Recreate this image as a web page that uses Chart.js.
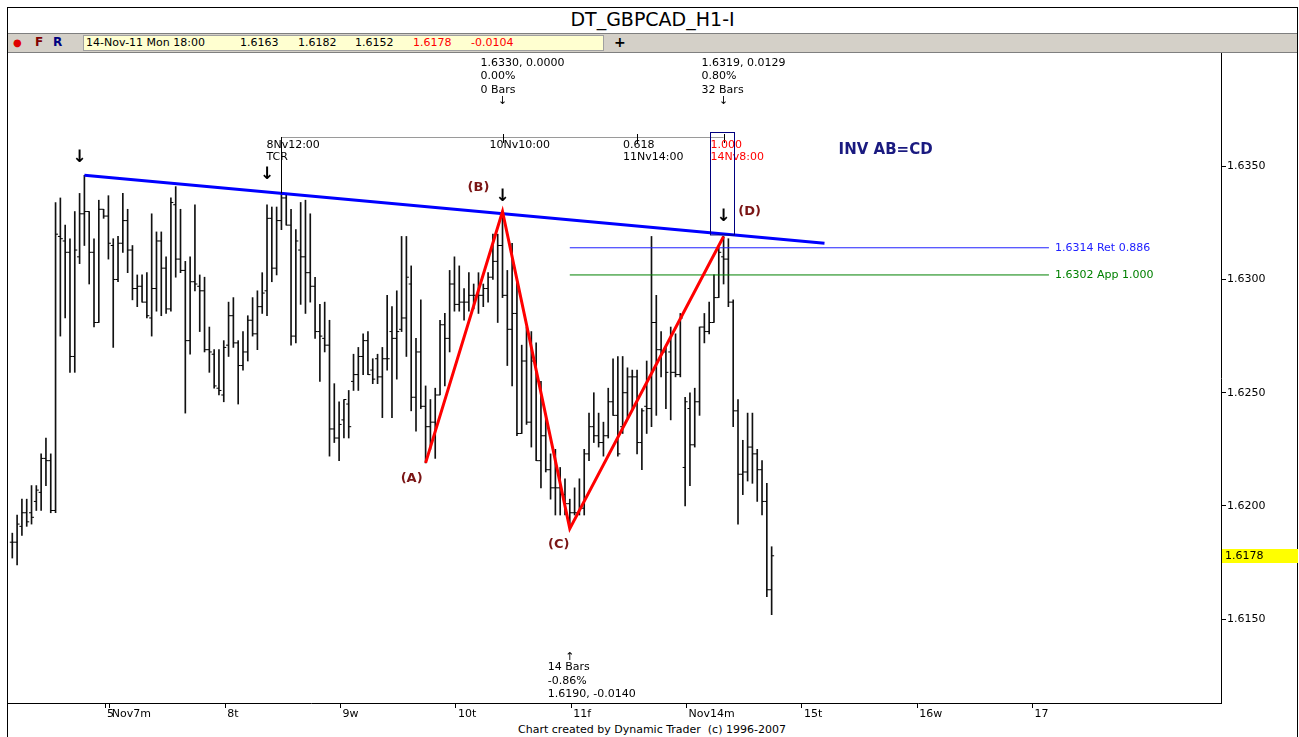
<!DOCTYPE html>
<html>
<head>
<meta charset="utf-8">
<title>DT_GBPCAD_H1-I</title>
<script src="https://cdn.jsdelivr.net/npm/chart.js@4.4.1/dist/chart.umd.min.js"></script>
<style>
  body { margin: 0; background: #fff; font-family: "DejaVu Sans", sans-serif; }
  #wrap { position: relative; width: 1299px; height: 737px; overflow: hidden; background: #fff; }
  #frame { position: absolute; left: 7px; top: 7px; width: 1291px; height: 760px; border: 1px solid #000; box-sizing: border-box; }
  #title { position: absolute; left: 8px; top: 8px; width: 1289px; height: 25px; line-height: 23px; text-align: center; font-size: 19px; border-bottom: 1px solid #7f7f7f; }
  #toolbar { position: absolute; left: 8px; top: 34px; width: 1289px; height: 18px; background: #d4d0c8; border-bottom: 1px solid #7f7f7f; font-size: 11px; }
  #toolbar span { position: absolute; top: 2px; white-space: pre; }
  #quote { position: absolute; left: 75px; top: 1px; width: 519px; height: 14px; background: #ffffd0; border: 1px solid #a0a0a0; }
  #footer { position: absolute; left: 0; top: 723px; width: 1304px; text-align: center; font-size: 11px; white-space: pre; }
  canvas { position: absolute; left: 0; top: 0; }
</style>
</head>
<body>
<div id="wrap">
  <div id="frame"></div>
  <div id="title">DT_GBPCAD_H1-I</div>
  <div id="toolbar">
    <span style="left:5px;color:#e00000;font-size:10px;top:3px">&#9679;</span>
    <span style="left:27px;color:#800000;font-weight:bold;font-size:12px;top:1px">F</span>
    <span style="left:45px;color:#000080;font-weight:bold;font-size:12px;top:1px">R</span>
    <div id="quote"></div>
    <span style="left:78px">14-Nov-11 Mon 18:00</span>
    <span style="left:232px">1.6163</span>
    <span style="left:290px">1.6182</span>
    <span style="left:347px">1.6152</span>
    <span style="left:405px;color:#ff0000">1.6178</span>
    <span style="left:463px;color:#ff0000">-0.0104</span>
    <span style="left:606px;font-weight:bold;font-size:14px;top:0px">+</span>
  </div>
  <div id="footer">Chart created by Dynamic Trader  (c) 1996-2007</div>
  <canvas id="chart" width="1299" height="737"></canvas>
</div>
<script>
// hourly bars, 4-Nov ... 14-Nov-11 18:00
var opens = [1.6184,1.6184,1.6191,1.6197,1.6197,1.6202,1.6206,1.6221,1.6220,1.6198,
  1.6319,1.6317,1.6312,1.6266,1.6310,1.6329,1.6330,1.6312,1.6281,1.6331,
  1.6328,1.6315,1.6300,1.6316,1.6326,1.6313,1.6296,1.6297,1.6290,1.6283,
  1.6296,1.6317,1.6305,1.6287,1.6333,1.6309,1.6304,1.6273,1.6299,1.6297,
  1.6295,1.6269,1.6267,1.6252,1.6249,1.6271,1.6284,1.6272,1.6262,1.6268,
  1.6282,1.6276,1.6288,1.6295,1.6327,1.6305,1.6326,1.6336,1.6324,1.6275,
  1.6313,1.6310,1.6303,1.6297,1.6277,1.6274,1.6271,1.6234,1.6230,1.6238,
  1.6245,1.6255,1.6258,1.6266,1.6273,1.6260,1.6265,1.6257,1.6265,1.6277,
  1.6274,1.6278,1.6283,1.6298,1.6248,1.6268,1.6244,1.6235,1.6237,1.6249,
  1.6280,1.6274,1.6298,1.6289,1.6290,1.6290,1.6293,1.6293,1.6293,1.6296,
  1.6301,1.6308,1.6315,1.6293,1.6278,1.6285,1.6232,1.6264,1.6237,1.6264,
  1.6220,1.6231,1.6216,1.6208,1.6208,1.6205,1.6201,1.6197,1.6197,1.6199,
  1.6223,1.6235,1.6231,1.6228,1.6231,1.6246,1.6240,1.6235,1.6250,1.6257,
  1.6257,1.6228,1.6244,1.6243,1.6281,1.6269,1.6268,1.6268,1.6259,1.6258,
  1.6217,1.6243,1.6227,1.6246,1.6279,1.6277,1.6281,1.6292,1.6310,1.6309,
  1.6290,1.6242,1.6214,1.6215,1.6226,1.6223,1.6216,1.6202,1.6163];
var highs = [1.6188,1.6196,1.6203,1.6203,1.6209,1.6209,1.6223,1.6230,1.6223,1.6334,
  1.6336,1.6324,1.6318,1.6330,1.6338,1.6346,1.6330,1.6318,1.6335,1.6331,
  1.6337,1.6318,1.6319,1.6338,1.6331,1.6315,1.6302,1.6302,1.6303,1.6329,
  1.6321,1.6321,1.6310,1.6336,1.6341,1.6331,1.6308,1.6310,1.6333,1.6302,
  1.6301,1.6279,1.6269,1.6269,1.6273,1.6290,1.6292,1.6273,1.6277,1.6284,
  1.6292,1.6295,1.6303,1.6333,1.6332,1.6332,1.6338,1.6338,1.6331,1.6322,
  1.6334,1.6335,1.6329,1.6301,1.6289,1.6290,1.6282,1.6254,1.6246,1.6247,
  1.6251,1.6267,1.6270,1.6276,1.6277,1.6265,1.6267,1.6270,1.6293,1.6288,
  1.6295,1.6319,1.6319,1.6306,1.6274,1.6291,1.6253,1.6247,1.6252,1.6282,
  1.6285,1.6304,1.6310,1.6306,1.6296,1.6303,1.6298,1.6303,1.6298,1.6303,
  1.6320,1.6320,1.6330,1.6304,1.6316,1.6301,1.6271,1.6279,1.6277,1.6272,
  1.6255,1.6240,1.6223,1.6225,1.6217,1.6212,1.6203,1.6208,1.6212,1.6225,
  1.6241,1.6250,1.6241,1.6237,1.6252,1.6265,1.6266,1.6266,1.6261,1.6260,
  1.6260,1.6243,1.6264,1.6319,1.6293,1.6277,1.6271,1.6279,1.6276,1.6285,
  1.6248,1.6250,1.6252,1.6279,1.6285,1.6290,1.6302,1.6314,1.6319,1.6318,
  1.6291,1.6247,1.6229,1.6241,1.6241,1.6225,1.6220,1.6210,1.6182];
var lows = [1.6177,1.6174,1.6187,1.6191,1.6192,1.6198,1.6198,1.6209,1.6197,1.6197,
  1.6275,1.6283,1.6259,1.6259,1.6307,1.6315,1.6298,1.6279,1.6281,1.6327,
  1.6309,1.6270,1.6299,1.6312,1.6303,1.6291,1.6288,1.6290,1.6283,1.6275,
  1.6286,1.6284,1.6285,1.6286,1.6301,1.6303,1.6241,1.6267,1.6295,1.6277,
  1.6268,1.6259,1.6252,1.6249,1.6246,1.6266,1.6270,1.6245,1.6260,1.6264,
  1.6275,1.6269,1.6285,1.6284,1.6299,1.6302,1.6322,1.6324,1.6271,1.6272,
  1.6289,1.6285,1.6290,1.6274,1.6255,1.6268,1.6222,1.6228,1.6220,1.6230,
  1.6230,1.6251,1.6251,1.6258,1.6258,1.6254,1.6254,1.6239,1.6260,1.6239,
  1.6256,1.6277,1.6266,1.6242,1.6233,1.6243,1.6219,1.6225,1.6221,1.6249,
  1.6253,1.6268,1.6286,1.6286,1.6282,1.6286,1.6287,1.6285,1.6288,1.6290,
  1.6300,1.6281,1.6292,1.6262,1.6253,1.6231,1.6232,1.6236,1.6226,1.6220,
  1.6208,1.6215,1.6203,1.6196,1.6196,1.6196,1.6190,1.6196,1.6196,1.6196,
  1.6220,1.6228,1.6226,1.6222,1.6230,1.6240,1.6222,1.6232,1.6239,1.6243,
  1.6223,1.6216,1.6232,1.6235,1.6240,1.6257,1.6243,1.6238,1.6257,1.6257,
  1.6200,1.6209,1.6226,1.6240,1.6272,1.6276,1.6281,1.6292,1.6298,1.6288,
  1.6235,1.6192,1.6205,1.6211,1.6210,1.6202,1.6196,1.6160,1.6152];
var closes = [1.6184,1.6192,1.6197,1.6193,1.6195,1.6207,1.6221,1.6220,1.6198,1.6320,
  1.6318,1.6312,1.6266,1.6313,1.6329,1.6330,1.6312,1.6281,1.6331,1.6328,
  1.6316,1.6300,1.6316,1.6326,1.6313,1.6296,1.6297,1.6290,1.6284,1.6296,
  1.6317,1.6305,1.6287,1.6334,1.6309,1.6304,1.6273,1.6299,1.6298,1.6295,
  1.6269,1.6268,1.6253,1.6251,1.6270,1.6284,1.6272,1.6262,1.6268,1.6282,
  1.6276,1.6288,1.6294,1.6327,1.6305,1.6326,1.6336,1.6324,1.6275,1.6317,
  1.6310,1.6303,1.6297,1.6277,1.6275,1.6271,1.6234,1.6230,1.6236,1.6247,
  1.6235,1.6258,1.6266,1.6273,1.6258,1.6256,1.6257,1.6265,1.6265,1.6274,
  1.6277,1.6283,1.6301,1.6248,1.6268,1.6244,1.6235,1.6237,1.6249,1.6280,
  1.6274,1.6298,1.6289,1.6290,1.6290,1.6293,1.6293,1.6293,1.6296,1.6301,
  1.6308,1.6315,1.6293,1.6278,1.6285,1.6232,1.6264,1.6237,1.6264,1.6220,
  1.6231,1.6216,1.6208,1.6208,1.6205,1.6201,1.6197,1.6197,1.6199,1.6223,
  1.6235,1.6231,1.6228,1.6231,1.6246,1.6240,1.6223,1.6250,1.6257,1.6257,
  1.6228,1.6242,1.6243,1.6281,1.6269,1.6268,1.6259,1.6259,1.6258,1.6283,
  1.6246,1.6227,1.6246,1.6279,1.6277,1.6281,1.6292,1.6312,1.6309,1.6290,
  1.6242,1.6214,1.6215,1.6226,1.6223,1.6216,1.6202,1.6163,1.6178];

// day separators on the time axis (bar index) and their labels
var dayTicks = [19.3, 20.3, 44.3, 68.3, 92.3, 116.3, 140.3, 164.3, 188.3, 212.3];
var dayLabels = ['5', 'Nov7m', '8t', '9w', '10t', '11f', 'Nov14m', '15t', '16w', '17'];
var priceTicks = [1.6150, 1.6200, 1.6250, 1.6300, 1.6350];

// AB=CD swing points
var pivotIdx = [86, 102, 116, 148];
var pivotPrice = [1.6219, 1.6330, 1.6190, 1.6319];
var pivotNames = ['(A)', '(B)', '(C)', '(D)'];

// resistance trend line and projections
var trendIdx = [15, 169];
var trendPrice = [1.6346, 1.6316];
var retLevel = 1.6314, appLevel = 1.6302, levelEndIdx = 215.7;
var arrowIdx = [14, 53, 102, 148];
var bracketIdx = [56, 102, 130, 148];
var lastPrice = 1.6178;

var bars = highs.map(function (h, i) { return { x: i, y: [lows[i], h] }; });
var openTicks = opens.map(function (o, i) { return { x: i - 0.27, y: o }; });
var closeTicks = closes.map(function (c, i) { return { x: i + 0.27, y: c }; });
var abcd = pivotIdx.map(function (x, i) { return { x: x, y: pivotPrice[i] }; });

function trendAt(idx) {
    var k = (trendPrice[1] - trendPrice[0]) / (trendIdx[1] - trendIdx[0]);
    return trendPrice[0] + k * (idx - trendIdx[0]);
}

var FONT = '"DejaVu Sans", sans-serif';

function text(ctx, s, x, y, color, font, align) {
    ctx.fillStyle = color || '#000';
    ctx.font = font || ('11px ' + FONT);
    ctx.textAlign = align || 'left';
    ctx.textBaseline = 'middle';
    ctx.fillText(s, x, y);
}

// annotations drawn on top of the chart
var annotations = {
    id: 'annotations',
    afterDatasetsDraw: function (chart) {
        var ctx = chart.ctx, xs = chart.scales.x, ys = chart.scales.y, area = chart.chartArea;
        var px = function (v) { return xs.getPixelForValue(v); };
        var py = function (v) { return ys.getPixelForValue(v); };
        ctx.save();

        // time bracket
        var by = area.top + 84;
        ctx.strokeStyle = '#9a9a9a';
        ctx.lineWidth = 1;
        ctx.beginPath();
        ctx.moveTo(px(bracketIdx[0]), by + 0.5);
        ctx.lineTo(px(bracketIdx[3]), by + 0.5);
        ctx.stroke();
        ctx.strokeStyle = '#000';
        ctx.beginPath();
        ctx.moveTo(Math.round(px(bracketIdx[0])) + 0.5, by);
        ctx.lineTo(Math.round(px(bracketIdx[0])) + 0.5, py(highs[bracketIdx[0]]));
        [1, 2, 3].forEach(function (k) {
            var x = Math.round(px(bracketIdx[k])) + 0.5;
            ctx.moveTo(x, by - 3);
            ctx.lineTo(x, by + 6);
        });
        ctx.stroke();
        text(ctx, '8Nv12:00', px(bracketIdx[0]) - 15, by + 8);
        text(ctx, 'TCR', px(bracketIdx[0]) - 15, by + 20);
        text(ctx, '10Nv10:00', px(bracketIdx[1]) - 13, by + 8);
        text(ctx, '0.618', px(bracketIdx[2]) - 14, by + 8);
        text(ctx, '11Nv14:00', px(bracketIdx[2]) - 14, by + 20);
        text(ctx, '1.000', px(bracketIdx[3]) - 13, by + 8, '#ff0000');
        text(ctx, '14Nv8:00', px(bracketIdx[3]) - 13, by + 20, '#ff0000');

        // time window box at D
        var dx = px(pivotIdx[3]);
        ctx.strokeStyle = '#000080';
        ctx.strokeRect(Math.round(dx - 14) + 0.5, by - 5 + 0.5, 24, py(pivotPrice[3]) - by + 3);

        // swing statistics
        var bx = px(pivotIdx[1]) - 22;
        text(ctx, '1.6330, 0.0000', bx, area.top + 10);
        text(ctx, '0.00%', bx, area.top + 23);
        text(ctx, '0 Bars', bx, area.top + 37);
        text(ctx, '\u2193', px(pivotIdx[1]), area.top + 48, '#000', '11px ' + FONT, 'center');
        var ddx = px(pivotIdx[3]) - 22;
        text(ctx, '1.6319, 0.0129', ddx, area.top + 10);
        text(ctx, '0.80%', ddx, area.top + 23);
        text(ctx, '32 Bars', ddx, area.top + 37);
        text(ctx, '\u2193', px(pivotIdx[3]), area.top + 48, '#000', '11px ' + FONT, 'center');
        var cx = px(pivotIdx[2]) - 22;
        text(ctx, '\u2191', px(pivotIdx[2]), area.bottom - 46, '#000', '11px ' + FONT, 'center');
        text(ctx, '14 Bars', cx, area.bottom - 36);
        text(ctx, '-0.86%', cx, area.bottom - 22);
        text(ctx, '1.6190, -0.0140', cx, area.bottom - 9);

        // bold arrows over the trend line touches
        arrowIdx.forEach(function (i) {
            text(ctx, '\u2193', px(i), py(trendAt(i)) - 17, '#000', 'bold 17px ' + FONT, 'center');
        });

        // pivot labels
        var off = [[-14, 16], [-24, -24], [-11, 16], [26, -25]];
        pivotNames.forEach(function (n, i) {
            text(ctx, n, px(pivotIdx[i]) + off[i][0], py(pivotPrice[i]) + off[i][1], '#7a1515', 'bold 13px ' + FONT, 'center');
        });

        text(ctx, 'INV AB=CD', px(pivotIdx[3]) + 115, area.top + 97, '#1a1a80', 'bold 15px ' + FONT);

        // level labels
        var lx = px(levelEndIdx) + 6;
        text(ctx, retLevel.toFixed(4) + ' Ret 0.886', lx, py(retLevel), '#2020ff');
        text(ctx, appLevel.toFixed(4) + ' App 1.000', lx, py(appLevel), '#008000');

        // last price tag on the axis
        var ly = py(lastPrice);
        ctx.fillStyle = '#ffff00';
        ctx.fillRect(area.right + 1, Math.round(ly) - 7, 76, 14);
        text(ctx, lastPrice.toFixed(4), area.right + 4, ly + 0.5);
        ctx.restore();
    }
};

new Chart(document.getElementById('chart'), {
    type: 'bar',
    data: {
        datasets: [
            { type: 'line', data: abcd, borderColor: '#ff0000', borderWidth: 3, pointRadius: 0, order: 0 },
            { type: 'line', data: [{ x: trendIdx[0], y: trendPrice[0] }, { x: trendIdx[1], y: trendPrice[1] }],
              borderColor: '#0000ff', borderWidth: 3, pointRadius: 0, order: 1 },
            { type: 'line', data: [{ x: pivotIdx[2], y: retLevel }, { x: levelEndIdx, y: retLevel }],
              borderColor: '#2020ff', borderWidth: 1, pointRadius: 0, order: 2 },
            { type: 'line', data: [{ x: pivotIdx[2], y: appLevel }, { x: levelEndIdx, y: appLevel }],
              borderColor: '#008000', borderWidth: 1, pointRadius: 0, order: 2 },
            { type: 'line', data: openTicks, showLine: false, pointStyle: 'line', pointRadius: 1.2,
              pointBorderWidth: 1, pointBorderColor: '#000', order: 3 },
            { type: 'line', data: closeTicks, showLine: false, pointStyle: 'line', pointRadius: 1.2,
              pointBorderWidth: 1, pointBorderColor: '#000', order: 3 },
            { type: 'bar', data: bars, backgroundColor: '#111', barThickness: 1, borderWidth: 0, order: 4 }
        ]
    },
    options: {
        responsive: false,
        animation: false,
        devicePixelRatio: 1,
        layout: { padding: { left: 8, right: 2, top: 53, bottom: 0 } },
        plugins: { legend: { display: false }, tooltip: { enabled: false } },
        scales: {
            x: {
                type: 'linear',
                min: -0.895,
                max: 251.5,
                offset: false,
                afterFit: function (s) { s.height = 34; },
                afterBuildTicks: function (s) { s.ticks = dayTicks.map(function (v) { return { value: v }; }); },
                grid: { drawOnChartArea: false, offset: false, tickLength: 5, color: '#000' },
                border: { color: '#000' },
                ticks: {
                    autoSkip: false, maxRotation: 0, align: 'start', labelOffset: 2, padding: 0,
                    color: '#000', font: { family: 'DejaVu Sans', size: 11 },
                    callback: function (v, i) { return dayLabels[i]; }
                }
            },
            y: {
                position: 'right',
                min: 1.6113,
                max: 1.6400,
                afterFit: function (s) { s.width = 76; },
                afterBuildTicks: function (s) { s.ticks = priceTicks.map(function (v) { return { value: v }; }); },
                grid: { drawOnChartArea: false, tickLength: 5, color: '#000' },
                border: { color: '#000' },
                ticks: {
                    padding: 1, color: '#000', font: { family: 'DejaVu Sans', size: 11 },
                    callback: function (v) { return v.toFixed(4); }
                }
            }
        }
    },
    plugins: [annotations]
});
</script>
</body>
</html>
